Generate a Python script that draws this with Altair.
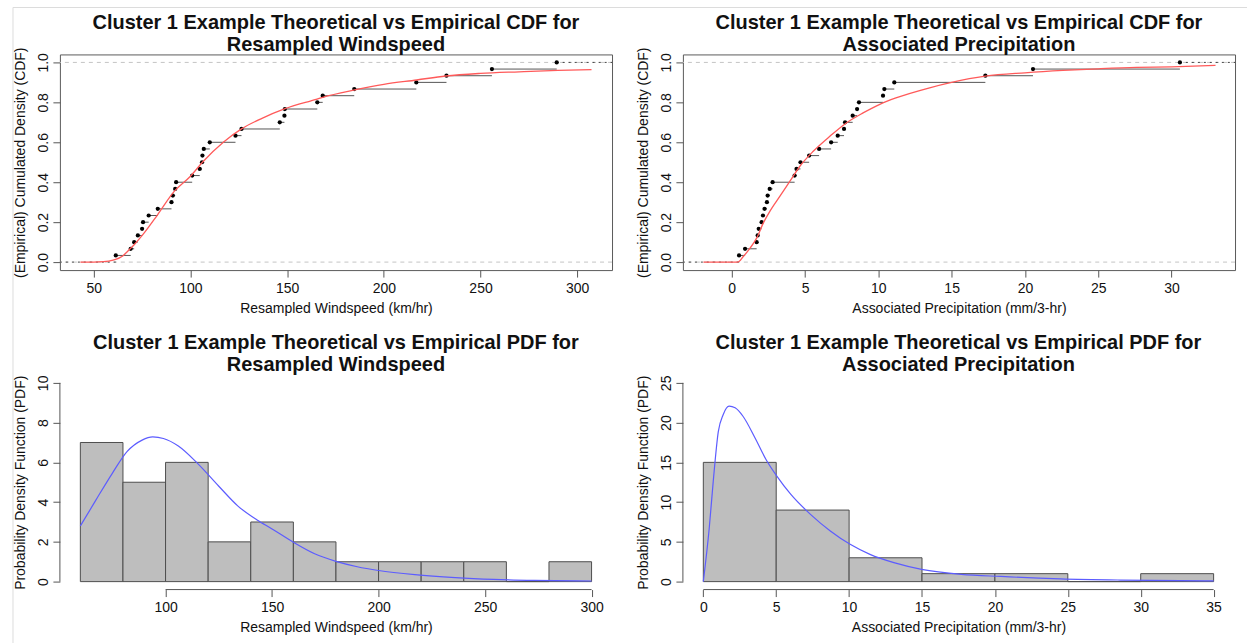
import altair as alt
import pandas as pd

FONT = "Liberation Sans"
TXT = "#111111"
AX = "#555555"

# Resampled windspeed sample (km/hr), sorted
wind = [61.4, 69.1, 70.9, 72.8, 75.0, 75.5, 78.4, 83.1, 90.2, 90.9,
        92.1, 92.6, 100.9, 104.8, 106.0, 106.2, 106.9, 110.0, 123.3, 126.4,
        146.2, 148.6, 148.8, 165.6, 168.4, 184.7, 216.8, 232.4, 255.9, 289.4]

# Associated precipitation sample (mm/3-hr), sorted
precip = [0.5, 0.91, 1.7, 1.77, 1.84, 2.04, 2.13, 2.24, 2.4, 2.45,
          2.59, 2.79, 4.29, 4.42, 4.69, 5.28, 5.96, 6.78, 7.23, 7.66,
          7.73, 8.25, 8.55, 8.68, 10.32, 10.41, 11.09, 17.3, 20.55, 30.57]

# Fitted theoretical CDF, windspeed
wind_cdf_x = [43.1, 50, 55, 60, 65, 67.4, 70.9, 76, 83, 91.6, 100, 106.2, 117,
              126.4, 137, 148.6, 165, 168.4, 185, 200, 217, 232, 250, 270, 290, 307.4]
wind_cdf_y = [0.0, 0.0, 0.002, 0.01, 0.03, 0.053, 0.087, 0.145, 0.237, 0.354, 0.43, 0.5, 0.6,
              0.667, 0.72, 0.767, 0.815, 0.825, 0.862, 0.89, 0.912, 0.932, 0.945, 0.953, 0.96, 0.964]

# Fitted theoretical CDF, precipitation
precip_cdf_x = [-1.93, 0, 0.4, 0.79, 1.25, 1.7, 2.15, 2.6, 3.29, 3.97, 4.65, 5.56, 6.69,
                7.82, 8.96, 10.1, 11.2, 13.5, 15, 17.3, 20, 22.6, 25, 27.6, 30, 33]
precip_cdf_y = [0.0, 0.0, 0.0, 0.028, 0.07, 0.12, 0.195, 0.254, 0.33, 0.405, 0.48, 0.555, 0.63,
                0.697, 0.747, 0.79, 0.822, 0.873, 0.9, 0.931, 0.948, 0.96, 0.968, 0.975, 0.978, 0.985]

# Histogram bins and counts
wind_edges = [60, 80, 100, 120, 140, 160, 180, 200, 220, 240, 260, 280, 300]
wind_counts = [7, 5, 6, 2, 3, 2, 1, 1, 1, 1, 0, 1]
precip_edges = [0, 5, 10, 15, 20, 25, 30, 35]
precip_counts = [15, 9, 3, 1, 1, 0, 1]

# Fitted density curves on the histogram scale
wind_pdf_x = [60, 67, 75, 82, 89, 94, 99, 106, 115, 125, 134, 143, 150, 160, 170,
              180, 190, 200, 217, 236, 254, 273, 300]
wind_pdf_y = [2.8, 4.05, 5.45, 6.55, 7.12, 7.28, 7.2, 6.82, 5.95, 4.8, 3.8, 3.1, 2.65, 1.98, 1.4,
              1.02, 0.75, 0.56, 0.35, 0.2, 0.11, 0.06, 0.03]
precip_pdf_x = [0, 0.41, 0.68, 1.03, 1.36, 1.77, 2.18, 2.72, 3.54, 4.35, 5.03, 5.99, 7.35,
                8.71, 10.07, 11.43, 13.07, 14.97, 17.69, 20.41, 24.5, 28.6, 32.7, 35]
precip_pdf_y = [0, 6.8, 12.6, 18.9, 21.0, 22.07, 21.86, 20.8, 18.1, 15.2, 13.3, 11.0, 8.46,
                6.37, 4.69, 3.43, 2.39, 1.55, 0.92, 0.65, 0.35, 0.2, 0.12, 0.1]

# Axis limits and ticks
wind_cdf_xlim = [32.5, 318]
precip_cdf_xlim = [-3.33, 34.33]
cdf_ylim = [-0.04, 1.04]
wind_cdf_ticks = [50, 100, 150, 200, 250, 300]
precip_cdf_ticks = [0, 5, 10, 15, 20, 25, 30]
cdf_yticks = [0, 0.2, 0.4, 0.6, 0.8, 1.0]
wind_hist_xlim = [50.4, 309.6]
wind_hist_ylim = [-0.4, 10.4]
wind_hist_xticks = [100, 150, 200, 250, 300]
wind_hist_yticks = [0, 2, 4, 6, 8, 10]
precip_hist_xlim = [-1.4, 36.4]
precip_hist_ylim = [-1, 26]
precip_hist_xticks = [0, 5, 10, 15, 20, 25, 30, 35]
precip_hist_yticks = [0, 5, 10, 15, 20, 25]

TITLE_L1_CDF = "Cluster 1 Example Theoretical vs Empirical CDF for"
TITLE_L1_PDF = "Cluster 1 Example Theoretical vs Empirical PDF for"


def x_axis(ticks, title, fmt="d"):
    return alt.Axis(values=ticks, title=title, format=fmt, grid=False, domain=False,
                    tickSize=7, tickColor=AX, labelColor=TXT, labelFont=FONT, labelFontSize=14,
                    labelPadding=4, labelFlush=False, labelOverlap=False,
                    titleFont=FONT, titleFontSize=14, titleFontWeight="normal", titleColor=TXT,
                    titlePadding=6, minExtent=25, maxExtent=25)


def y_axis(ticks, title, fmt):
    return alt.Axis(values=ticks, title=title, format=fmt, grid=False, domain=False,
                    tickSize=7, tickColor=AX, labelColor=TXT, labelFont=FONT, labelFontSize=14,
                    labelPadding=5, labelAngle=270, labelAlign="center", labelBaseline="alphabetic",
                    labelFlush=False, labelOverlap=False,
                    titleFont=FONT, titleFontSize=14, titleFontWeight="normal", titleColor=TXT,
                    titlePadding=6, minExtent=26, maxExtent=26)


def panel_title(l1, l2, dy):
    return alt.TitleParams(text=[l1, l2], font=FONT, fontSize=20, fontWeight="bold",
                           color=TXT, anchor="middle", frame="group", lineHeight=22, offset=1, dy=dy)


def cdf_panel(sample, xlim, xticks, cx, cy, xtitle, t2, width, height, dy, extra=()):
    n = len(sample)
    pts = pd.DataFrame({"x": sample, "y": [(i + 1) / n for i in range(n)]})
    steps = pd.DataFrame({"x": sample[:-1], "x2": sample[1:],
                          "y": [(i + 1) / n for i in range(n - 1)]})
    ends = pd.DataFrame({"x": [xlim[0], sample[-1]], "x2": [sample[0], xlim[1]], "y": [0.0, 1.0]})
    curve = pd.DataFrame({"x": cx, "y": cy})
    ref = pd.DataFrame({"y": [0.0, 1.0]})

    xs = alt.Scale(domain=xlim, nice=False, zero=False)
    ys = alt.Scale(domain=cdf_ylim, nice=False, zero=False)
    X = alt.X("x:Q", scale=xs, axis=x_axis(xticks, xtitle))
    Y = alt.Y("y:Q", scale=ys, axis=y_axis(cdf_yticks, "(Empirical) Cumulated Density (CDF)", ".1f"))

    guide = alt.Chart(ref).mark_rule(color="#c4c4c4", strokeWidth=1, strokeDash=[4, 4]).encode(y=Y)
    tails = alt.Chart(ends).mark_rule(color="#444444", strokeWidth=1, strokeDash=[2, 4]).encode(
        x=X, x2="x2:Q", y=Y)
    seg = alt.Chart(steps).mark_rule(color="#555555", strokeWidth=1).encode(x=X, x2="x2:Q", y=Y)
    dots = alt.Chart(pts).mark_circle(color="#000000", size=18, opacity=1).encode(x=X, y=Y)
    fit = alt.Chart(curve).mark_line(color="#ff5a5a", strokeWidth=1.3, interpolate="monotone").encode(
        x=X, y=Y)
    return alt.layer(*extra, guide, tails, seg, dots, fit).properties(
        width=width, height=height, title=panel_title(TITLE_L1_CDF, t2, dy),
        view=alt.ViewBackground(stroke="#5a5a5a", strokeWidth=1))


def hist_panel(edges, counts, xlim, ylim, xticks, yticks, px, py, xtitle, t2, width, height, dy):
    bars = pd.DataFrame({"lo": edges[:-1], "hi": edges[1:], "count": counts})
    curve = pd.DataFrame({"x": px, "y": py})
    xline = pd.DataFrame({"x": [xticks[0]], "x2": [xticks[-1]]})
    yline = pd.DataFrame({"y": [yticks[0]], "y2": [yticks[-1]]})

    xs = alt.Scale(domain=xlim, nice=False, zero=False)
    ys = alt.Scale(domain=ylim, nice=False, zero=False)
    xa = x_axis(xticks, xtitle)
    ya = y_axis(yticks, "Probability Density Function (PDF)", "d")

    rects = alt.Chart(bars).mark_rect(fill="#bebebe", stroke="#4d4d4d", strokeWidth=1).encode(
        x=alt.X("lo:Q", scale=xs, axis=xa), x2="hi:Q",
        y=alt.Y("count:Q", scale=ys, axis=ya), y2=alt.datum(0))
    fit = alt.Chart(curve).mark_line(color="#5c5cff", strokeWidth=1.2, interpolate="monotone").encode(
        x=alt.X("x:Q", scale=xs, axis=xa), y=alt.Y("y:Q", scale=ys, axis=ya))
    xrule = alt.Chart(xline).mark_rule(color=AX, strokeWidth=1).encode(
        x=alt.X("x:Q", scale=xs, axis=xa), x2="x2:Q", y=alt.value(height))
    yrule = alt.Chart(yline).mark_rule(color=AX, strokeWidth=1).encode(
        y=alt.Y("y:Q", scale=ys, axis=ya), y2="y2:Q", x=alt.value(0))
    return alt.layer(rects, fit, xrule, yrule).properties(
        width=width, height=height, title=panel_title(TITLE_L1_PDF, t2, dy))


# thin page frame along the left and top edges
frame_df = pd.DataFrame({"k": [0]})
frame_v = alt.Chart(frame_df).mark_rule(color="#dcdcdc", strokeWidth=1).encode(
    x=alt.value(-47), y=alt.value(-47), y2=alt.value(590))
frame_h = alt.Chart(frame_df).mark_rule(color="#dcdcdc", strokeWidth=1).encode(
    x=alt.value(-47), x2=alt.value(1189), y=alt.value(-47))

tl = cdf_panel(wind, wind_cdf_xlim, wind_cdf_ticks, wind_cdf_x, wind_cdf_y,
               "Resampled Windspeed (km/hr)", "Resampled Windspeed", 553, 216, 49,
               extra=(frame_v, frame_h))
tr = cdf_panel(precip, precip_cdf_xlim, precip_cdf_ticks, precip_cdf_x, precip_cdf_y,
               "Associated Precipitation (mm/3-hr)", "Associated Precipitation", 553, 216, 9)
bl = hist_panel(wind_edges, wind_counts, wind_hist_xlim, wind_hist_ylim, wind_hist_xticks,
                wind_hist_yticks, wind_pdf_x, wind_pdf_y, "Resampled Windspeed (km/hr)",
                "Resampled Windspeed", 553, 215, 1)
br = hist_panel(precip_edges, precip_counts, precip_hist_xlim, precip_hist_ylim, precip_hist_xticks,
                precip_hist_yticks, precip_pdf_x, precip_pdf_y, "Associated Precipitation (mm/3-hr)",
                "Associated Precipitation", 552, 215, 1)

chart = alt.concat(tl, tr, bl, br, columns=2, spacing={"row": 105, "column": 71},
                   bounds="flush", align="each").properties(
    padding={"left": 12, "top": 6, "right": 0, "bottom": 0}, background="white"
).configure_view(stroke="transparent")

chart.save("out.html", embed_options={"renderer": "svg", "actions": False})
